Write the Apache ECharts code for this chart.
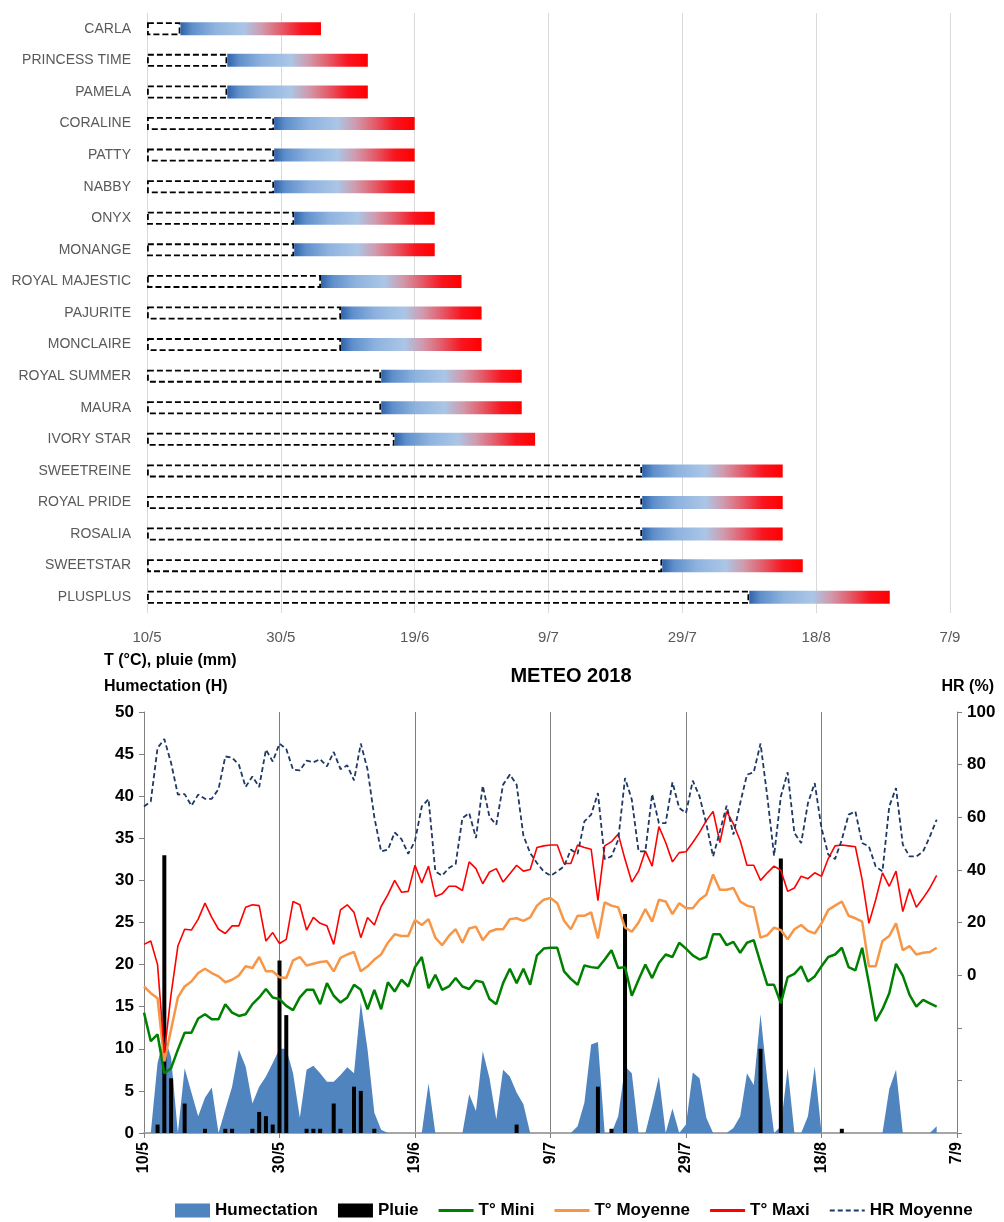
<!DOCTYPE html>
<html><head><meta charset="utf-8">
<script src="https://cdn.jsdelivr.net/npm/echarts@6/dist/echarts.min.js"></script>
<style>html,body{margin:0;padding:0;background:#fff}#c{width:1004px;height:1222px}</style>
</head><body><div id="c"></div>
<script>
// ---- tick labels (day 0 = 10/5, one tick every 20 days) ----
const tickLabels = ['10/5','30/5','19/6','9/7','29/7','18/8','7/9'];

// ---- Gantt: varieties, start day and end day (days after 10/5) ----
const varieties = ['CARLA','PRINCESS TIME','PAMELA','CORALINE','PATTY','NABBY','ONYX','MONANGE','ROYAL MAJESTIC','PAJURITE','MONCLAIRE','ROYAL SUMMER','MAURA','IVORY STAR','SWEETREINE','ROYAL PRIDE','ROSALIA','SWEETSTAR','PLUSPLUS'];
const startDay = [5,12,12,19,19,19,22,22,26,29,29,35,35,37,74,74,74,77,90];
const endDay   = [26,33,33,40,40,40,43,43,47,50,50,56,56,58,95,95,95,98,111];

// ---- Weather, one value per day from 10/5 ----
const humectation = [0,0,8.3,11.5,9,0,7.7,4.8,2.0,4.2,5.4,0,2.8,5.5,9.9,7.9,3.5,5.5,6.7,8.3,10,
 10,7.1,1.8,7.5,8.0,7.1,6.1,6.1,6.9,7.8,7.1,15.5,9.9,2.4,0.4,0,0,0,0,0,
 0,5.9,0,0,0,0,0,4.6,2.6,9.7,6.5,1.6,7.5,6.7,4.8,3.4,0,0,0,0,
 0,0,0,0.8,3.6,10.5,10.8,0,0,2.0,7.9,7.1,0,0,3.2,6.7,0,2.9,0,1.0,
 7.2,6.5,1.8,0,0,0,0.6,2.0,7.1,5.7,14.1,6.3,0,0.8,7.7,0,0,2.0,7.9,0,
 0,0,0,0,0,0,0,0,0,5.2,7.5,0,0,0,0,0,0.8];
const pluie = [0,0,1,33,6.5,0,3.5,0,0,0.5,0,0,0.5,0.5,0,0,0.5,2.5,2,1,20.5,
 14,0,0,0.5,0.5,0.5,0,3.5,0.5,0,5.5,5,0,0.5,0,0,0,0,0,0,
 0,0,0,0,0,0,0,0,0,0,0,0,0,0,1,0,0,0,0,0,
 0,0,0,0,0,0,5.5,0,0.5,0,26,0,0,0,0,0,0,0,0,0,
 0,0,0,0,0,0,0,0,0,0,10,0,0,32.6,0,0,0,0,0,0,
 0,0,0.5,0,0,0,0,0,0,0,0,0,0,0,0,0,0];
const tMini = [14.3,10.9,11.7,7.1,7.7,9.9,11.9,11.9,13.6,14.1,13.5,13.5,15.3,14.3,13.9,14.1,15.3,16.1,17.1,16.1,15.9,
 15.1,14.6,16.1,17.0,17.0,15.3,17.8,16.3,15.5,16.1,17.6,17.0,14.7,17.0,14.7,17.9,16.8,18.2,17.4,19.7,
 20.9,17.2,18.8,17.0,17.4,18.4,17.4,17.1,18.1,17.9,15.9,15.3,17.8,19.5,17.8,19.5,17.6,21.1,21.9,22.0,
 22.0,19.2,18.3,17.6,19.9,19.7,19.6,20.6,21.7,19.6,19.7,16.3,18.2,20.0,18.4,20.2,21.2,20.9,22.6,21.9,
 21.1,20.6,20.9,23.6,23.6,22.3,22.7,21.4,22.6,22.9,20.2,17.6,17.6,15.4,18.5,18.9,19.8,18.0,18.6,19.8,
 20.9,21.2,22.0,19.7,19.3,22.0,17.8,13.3,14.7,16.6,20.1,18.7,16.4,15.0,15.8,15.4,15.0];
const tMoyenne = [17.4,16.6,16.0,8.5,12.3,16.1,17.4,18.0,19.0,19.5,19.0,18.6,17.9,18.2,18.7,19.8,19.6,20.9,19.2,19.2,18.5,
 18.4,20.5,20.9,19.9,20.1,20.3,20.4,19.2,20.8,21.2,21.5,19.2,19.8,20.6,21.2,22.6,23.6,23.4,23.4,25.3,
 24.7,25.4,23.2,22.3,23.4,24.2,22.6,24.3,24.5,22.9,23.9,24.2,24.2,25.4,25.5,25.2,25.6,27.0,27.7,27.9,
 27.3,25.2,24.2,25.8,25.8,26.2,23.1,27.4,27.0,26.8,24.4,23.9,25.0,26.6,25.1,27.7,27.5,26.0,27.3,26.7,
 26.7,27.7,28.3,30.7,28.9,28.9,29.1,27.5,27.0,26.8,23.2,23.5,24.4,24.1,23.0,24.2,24.7,24.0,23.7,24.9,
 26.5,27.0,27.5,25.8,25.5,25.1,19.8,19.8,22.8,23.4,24.9,21.7,22.2,21.2,21.4,21.5,22.0];
const tMaxi = [22.4,22.8,20.0,9.5,16.5,22.2,24.2,24.1,25.4,27.3,25.6,24.2,23.7,24.6,24.6,26.8,27.1,27.0,22.8,23.8,22.5,
 23.0,27.5,27.1,24.1,25.6,24.9,24.6,22.4,26.5,27.1,26.2,23.2,25.6,24.7,26.9,28.3,30.0,28.6,28.7,31.8,
 29.7,31.7,28.1,28.4,29.3,29.3,28.8,32.2,31.4,29.6,31.0,31.4,29.8,30.8,31.8,31.1,31.3,33.9,34.1,34.2,
 34.2,32.0,32.0,34.2,33.9,33.7,27.6,34.1,34.6,35.5,32.5,29.8,31.1,33.5,31.7,36.4,34.5,32.2,33.3,33.4,
 34.5,35.7,37.1,38.2,34.5,38.2,36.7,34.7,31.8,31.8,30.0,30.9,31.7,31.2,28.7,29.1,30.5,30.2,30.9,30.5,
 32.6,34.1,34.2,34.1,34.0,30.1,24.9,27.7,30.9,29.3,31.1,26.3,29.0,26.8,27.9,29.1,30.6];
const hrMoyenne = [64.1,66.0,86.3,89.7,80.6,68.6,68.8,64.4,68.6,67.0,67.0,70.7,83.1,82.7,80.0,71.5,75.5,71.5,85.7,81.2,88.0,
 85.9,78.1,77.8,81.5,80.9,82.1,79.3,84.8,78.3,79.7,74.0,88.0,78.1,60.0,47.0,47.7,54.2,51.7,46.1,51.0,
 64.1,66.9,39.4,37.8,40.7,42.2,59.7,61.6,52.1,72.0,60.1,57.2,72.4,76.2,72.4,53.0,46.4,42.6,39.4,37.8,
 39.4,41.3,47.7,46.1,58.4,61.0,69.2,44.1,45.1,51.5,74.9,66.7,47.0,47.0,68.8,57.8,57.8,73.3,63.5,61.6,
 73.9,67.9,57.5,45.1,54.6,64.4,53.4,65.4,76.2,77.1,88.0,67.9,45.4,67.9,77.1,54.0,50.2,65.4,73.0,55.9,
 45.8,44.1,51.5,61.0,62.2,50.2,48.9,41.3,39.4,64.1,71.1,49.6,45.1,45.1,47.0,52.7,59.1];

// ---- build ----
const chart = echarts.init(document.getElementById('c'), null, {renderer: 'canvas'});
const pairs = arr => arr.map((v, i) => [i, v]);
const fmtTick = v => { const k = Math.round(v / 20); return tickLabels[k] !== undefined ? tickLabels[k] : ''; };
const REG = "'Liberation Sans', Arial, sans-serif";
const BOLD = "'Liberation Sans', Arial, sans-serif";
const grad = new echarts.graphic.LinearGradient(0, 0, 1, 0, [
  {offset: 0, color: '#2f62a8'},
  {offset: 0.08, color: '#5e8fcb'},
  {offset: 0.25, color: '#8fb3df'},
  {offset: 0.45, color: '#aac6e6'},
  {offset: 0.58, color: '#d19aac'},
  {offset: 0.72, color: '#e45a68'},
  {offset: 0.86, color: '#f8141e'},
  {offset: 1, color: '#ff0000'}
]);
const duration = endDay.map((e, i) => e - startDay[i]);
const solidIcon = 'path://M0,0h35v3h-35z';
const dashIcon = 'path://M0,0h5v2h-5z M8,0h5v2h-5z M16,0h5v2h-5z M24,0h5v2h-5z M32,0h3v2h-3z';

const option = {
  animation: false,
  backgroundColor: '#fff',
  title: {
    text: 'METEO 2018', left: 566, top: 661, textAlign: 'center',
    textStyle: {fontFamily: BOLD, fontWeight: 'bold', fontSize: 20, color: '#000'}
  },
  graphic: [
    {type: 'text', left: 104, top: 653, style: {text: 'T (°C), pluie (mm)', font: "bold 16px 'Liberation Sans', Arial", fill: '#000'}},
    {type: 'text', left: 104, top: 679, style: {text: 'Humectation (H)', font: "bold 16px 'Liberation Sans', Arial", fill: '#000'}},
    {type: 'text', right: 10, top: 679, style: {text: 'HR (%)', font: "bold 16px 'Liberation Sans', Arial", fill: '#000'}}
  ],
  legend: {
    left: 170, top: 1197, itemWidth: 35, itemHeight: 14, itemGap: 20,
    textStyle: {fontFamily: BOLD, fontWeight: 'bold', fontSize: 17, color: '#000'},
    data: [
      {name: 'Humectation', icon: 'rect'},
      {name: 'Pluie', icon: 'rect'},
      {name: 'T° Mini', icon: solidIcon},
      {name: 'T° Moyenne', icon: solidIcon},
      {name: 'T° Maxi', icon: solidIcon},
      {name: 'HR Moyenne', icon: dashIcon}
    ]
  },
  grid: [
    {left: 147, top: 13, width: 803, height: 600, containLabel: false, outerBoundsMode: 'none'},
    {left: 144, top: 712, width: 813, height: 421, containLabel: false, outerBoundsMode: 'none'}
  ],
  xAxis: [
    {gridIndex: 0, type: 'value', min: 0, max: 120, interval: 20,
     axisLine: {show: false}, axisTick: {show: false},
     splitLine: {show: true, lineStyle: {color: '#d9d9d9', width: 1}},
     axisLabel: {formatter: fmtTick, color: '#595959', fontSize: 15, margin: 17, fontFamily: REG}},
    {gridIndex: 1, type: 'value', min: 0, max: 120, interval: 20,
     axisLine: {show: true, lineStyle: {color: '#a6a6a6', width: 2}},
     axisTick: {show: true, length: 5, lineStyle: {color: '#808080'}},
     splitLine: {show: true, lineStyle: {color: '#7f7f7f', width: 1}},
     axisLabel: {formatter: fmtTick, rotate: 90, color: '#000', fontWeight: 'bold', fontSize: 16, margin: 9, fontFamily: BOLD}}
  ],
  yAxis: [
    {gridIndex: 0, type: 'category', data: varieties, inverse: true,
     axisLine: {show: false}, axisTick: {show: false}, splitLine: {show: false},
     axisLabel: {color: '#595959', fontSize: 14, margin: 16, fontFamily: REG}},
    {gridIndex: 1, type: 'value', min: 0, max: 50, interval: 5, position: 'left',
     axisLine: {show: true, lineStyle: {color: '#808080'}},
     axisTick: {show: true, length: 5, lineStyle: {color: '#808080'}},
     splitLine: {show: false},
     axisLabel: {color: '#000', fontWeight: 'bold', fontSize: 17, margin: 10, fontFamily: BOLD}},
    {gridIndex: 1, type: 'value', min: -60, max: 100, interval: 20, position: 'right',
     axisLine: {show: true, lineStyle: {color: '#808080'}},
     axisTick: {show: true, length: 5, lineStyle: {color: '#808080'}},
     splitLine: {show: false},
     axisLabel: {formatter: v => (v >= 0 ? String(v) : ''), color: '#000', fontWeight: 'bold', fontSize: 17, margin: 10, fontFamily: BOLD}}
  ],
  series: [
    {name: 'offset', type: 'bar', xAxisIndex: 0, yAxisIndex: 0, stack: 'g', barWidth: 13, silent: true,
     itemStyle: {color: 'rgba(0,0,0,0)', borderColor: '#000', borderWidth: 1.8, borderType: [6, 3]},
     data: startDay},
    {name: 'periode', type: 'bar', xAxisIndex: 0, yAxisIndex: 0, stack: 'g', barWidth: 13, silent: true,
     itemStyle: {color: grad}, data: duration},

    {name: 'Humectation', type: 'line', xAxisIndex: 1, yAxisIndex: 1, symbol: 'none', z: 1,
     color: '#4f84be', lineStyle: {width: 0}, areaStyle: {color: '#4f84be', opacity: 1},
     data: pairs(humectation)},
    {name: 'Pluie', type: 'bar', xAxisIndex: 1, yAxisIndex: 1, barWidth: 4, z: 2,
     itemStyle: {color: '#000'}, color: '#000', data: pairs(pluie)},
    {name: 'T° Mini', type: 'line', xAxisIndex: 1, yAxisIndex: 1, symbol: 'none', z: 3,
     color: '#008000', lineStyle: {color: '#008000', width: 2.5}, data: pairs(tMini)},
    {name: 'T° Moyenne', type: 'line', xAxisIndex: 1, yAxisIndex: 1, symbol: 'none', z: 3,
     color: '#f79646', lineStyle: {color: '#f79646', width: 2.5}, data: pairs(tMoyenne)},
    {name: 'T° Maxi', type: 'line', xAxisIndex: 1, yAxisIndex: 1, symbol: 'none', z: 3,
     color: '#ff0000', lineStyle: {color: '#ff0000', width: 1.6}, data: pairs(tMaxi)},
    {name: 'HR Moyenne', type: 'line', xAxisIndex: 1, yAxisIndex: 2, symbol: 'none', z: 4,
     color: '#1f3864', lineStyle: {color: '#1f3864', width: 1.8, type: [5, 3]}, data: pairs(hrMoyenne)}
  ]
};
chart.setOption(option);
</script>
</body></html>
